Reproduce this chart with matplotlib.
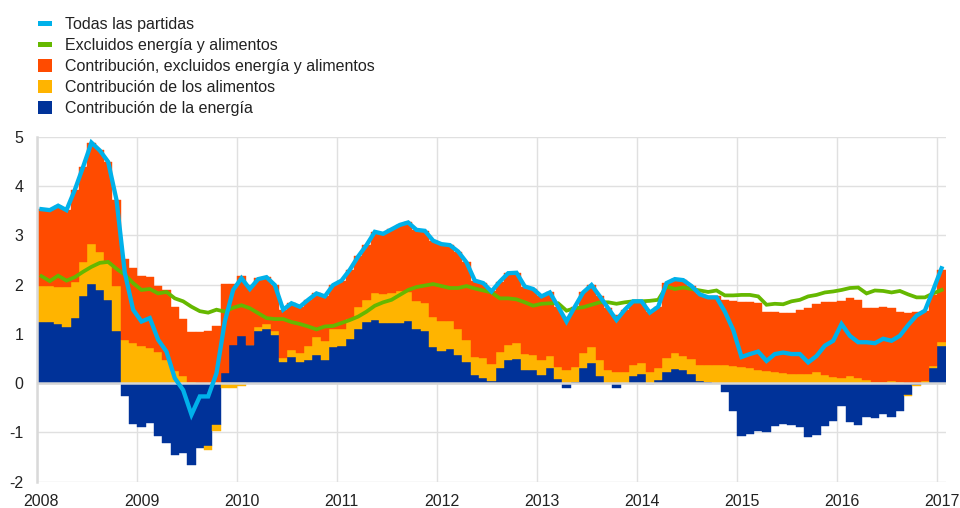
import numpy as np
import matplotlib
matplotlib.use("Agg")
import matplotlib.pyplot as plt
from matplotlib.patches import Rectangle

# ---------------- data (monthly, Jan 2008 - Jan 2017) ----------------
years = [str(y) for y in range(2008, 2018)]

energy = [1.24, 1.24, 1.20, 1.13, 1.32, 1.76, 2.01, 1.88, 1.69, 1.06,
          -0.27, -0.83, -0.90, -0.81, -1.08, -1.22, -1.45, -1.42, -1.66, -1.32,
          -1.28, -0.84, 0.20, 0.78, 0.96, 0.78, 1.05, 1.09, 0.98, 0.42,
          0.54, 0.42, 0.46, 0.57, 0.47, 0.74, 0.76, 0.89, 1.10, 1.24,
          1.28, 1.23, 1.22, 1.22, 1.26, 1.10, 1.05, 0.73, 0.66, 0.70,
          0.57, 0.42, 0.17, 0.10, 0.05, 0.30, 0.46, 0.49, 0.27, 0.27,
          0.16, 0.30, 0.08, -0.10, 0.03, 0.30, 0.41, 0.15, 0.00, -0.10,
          0.00, 0.15, 0.19, -0.02, 0.07, 0.22, 0.29, 0.27, 0.18, 0.05,
          0.02, 0.00, -0.18, -0.56, -1.08, -1.03, -0.97, -1.00, -0.86, -0.82,
          -0.84, -0.90, -1.09, -1.05, -0.88, -0.76, -0.47, -0.78, -0.84, -0.68,
          -0.71, -0.62, -0.68, -0.57, -0.24, -0.03, 0.00, 0.30, 0.76]

food = [0.74, 0.74, 0.76, 0.83, 0.74, 0.69, 0.81, 0.79, 0.74, 0.92,
        0.88, 0.82, 0.76, 0.71, 0.64, 0.47, 0.24, 0.14, 0.03, 0.00,
        -0.07, -0.14, -0.10, -0.10, -0.06, 0.00, 0.08, 0.10, 0.07, 0.09,
        0.14, 0.19, 0.30, 0.37, 0.39, 0.35, 0.34, 0.42, 0.44, 0.45,
        0.55, 0.57, 0.61, 0.64, 0.58, 0.57, 0.57, 0.61, 0.60, 0.56,
        0.53, 0.46, 0.37, 0.41, 0.34, 0.33, 0.32, 0.32, 0.32, 0.30,
        0.31, 0.26, 0.24, 0.27, 0.29, 0.31, 0.32, 0.31, 0.27, 0.22,
        0.22, 0.22, 0.22, 0.22, 0.23, 0.29, 0.32, 0.29, 0.31, 0.32,
        0.35, 0.36, 0.36, 0.34, 0.32, 0.30, 0.27, 0.24, 0.22, 0.20,
        0.18, 0.18, 0.19, 0.22, 0.17, 0.12, 0.10, 0.14, 0.10, 0.07,
        0.02, 0.02, 0.05, 0.02, -0.03, -0.02, 0.05, 0.05, 0.07]

core_contrib = [1.55, 1.53, 1.64, 1.55, 1.86, 1.94, 2.06, 2.05, 2.06, 1.74,
                1.63, 1.52, 1.42, 1.45, 1.34, 1.42, 1.31, 1.16, 1.00, 1.03,
                1.05, 1.15, 1.81, 1.23, 1.22, 1.22, 1.01, 0.96, 0.94, 0.98,
                0.94, 0.94, 0.93, 0.88, 0.90, 0.90, 0.98, 0.99, 1.03, 1.11,
                1.24, 1.23, 1.29, 1.35, 1.42, 1.44, 1.47, 1.55, 1.56, 1.54,
                1.57, 1.57, 1.54, 1.52, 1.47, 1.43, 1.45, 1.43, 1.37, 1.34,
                1.29, 1.28, 1.23, 1.08, 1.23, 1.23, 1.26, 1.30, 1.25, 1.16,
                1.27, 1.29, 1.25, 1.23, 1.25, 1.52, 1.50, 1.53, 1.48, 1.43,
                1.39, 1.40, 1.33, 1.32, 1.32, 1.34, 1.35, 1.21, 1.23, 1.23,
                1.25, 1.31, 1.33, 1.39, 1.47, 1.52, 1.57, 1.58, 1.58, 1.45,
                1.50, 1.52, 1.47, 1.43, 1.43, 1.45, 1.42, 1.44, 1.47]

headline = [3.53, 3.51, 3.60, 3.51, 3.92, 4.39, 4.88, 4.72, 4.49, 3.72,
            2.24, 1.49, 1.25, 1.32, 0.88, 0.64, 0.10, -0.14, -0.64, -0.27,
            -0.27, 0.20, 1.25, 1.89, 2.13, 1.91, 2.11, 2.15, 1.99, 1.49,
            1.62, 1.55, 1.69, 1.82, 1.76, 1.99, 2.08, 2.30, 2.57, 2.80,
            3.07, 3.03, 3.12, 3.21, 3.26, 3.11, 3.09, 2.89, 2.82, 2.80,
            2.67, 2.45, 2.08, 2.03, 1.86, 2.06, 2.23, 2.24, 1.96, 1.91,
            1.76, 1.84, 1.55, 1.25, 1.55, 1.84, 1.99, 1.76, 1.52, 1.28,
            1.49, 1.66, 1.66, 1.43, 1.55, 2.03, 2.11, 2.09, 1.97, 1.80,
            1.74, 1.74, 1.45, 1.08, 0.53, 0.59, 0.64, 0.45, 0.59, 0.62,
            0.59, 0.59, 0.42, 0.55, 0.76, 0.86, 1.20, 0.96, 0.83, 0.83,
            0.81, 0.90, 0.86, 0.96, 1.18, 1.37, 1.47, 1.89, 2.33]

core_line = [2.17, 2.07, 2.18, 2.08, 2.15, 2.26, 2.36, 2.44, 2.46, 2.32,
             2.20, 2.03, 1.89, 1.91, 1.82, 1.85, 1.72, 1.66, 1.55, 1.46,
             1.43, 1.49, 1.45, 1.53, 1.58, 1.52, 1.42, 1.32, 1.30, 1.30,
             1.24, 1.20, 1.15, 1.09, 1.15, 1.16, 1.22, 1.28, 1.35, 1.45,
             1.57, 1.64, 1.69, 1.79, 1.89, 1.95, 1.98, 2.01, 1.97, 1.93,
             1.93, 1.97, 1.92, 1.88, 1.84, 1.72, 1.72, 1.70, 1.64, 1.57,
             1.61, 1.62, 1.62, 1.47, 1.52, 1.54, 1.59, 1.64, 1.64, 1.61,
             1.64, 1.66, 1.66, 1.67, 1.69, 1.96, 1.91, 1.94, 1.91, 1.88,
             1.85, 1.88, 1.78, 1.78, 1.79, 1.79, 1.76, 1.59, 1.61, 1.60,
             1.66, 1.69, 1.76, 1.79, 1.84, 1.86, 1.89, 1.93, 1.94, 1.82,
             1.88, 1.87, 1.84, 1.87, 1.80, 1.74, 1.74, 1.82, 1.89]

labels = ["Todas las partidas",
          "Excluidos energía y alimentos",
          "Contribución, excluidos energía y alimentos",
          "Contribución de los alimentos",
          "Contribución de la energía"]

C_BLUE_L = "#00B1EA"
C_GREEN = "#65B800"
C_ORANGE = "#FF4B00"
C_YELLOW = "#FFB400"
C_BLUE_D = "#003299"

plt.rcParams['font.family'] = ['Liberation Sans', 'DejaVu Sans']
plt.rcParams['axes.unicode_minus'] = False
FS = 11.5
TXT = "#222222"

fig = plt.figure(figsize=(9.6, 5.08), dpi=100)
W, H = 960.0, 508.0
ax_l, ax_r, ax_t, ax_b = 37.3, 945.7, 136.7, 481.7
ax = fig.add_axes([ax_l / W, 1 - ax_b / H, (ax_r - ax_l) / W, (ax_b - ax_t) / H])

n = len(headline)
x = np.arange(n)

pos_bottom = np.zeros(n)
neg_bottom = np.zeros(n)
for vals, col in [(energy, C_BLUE_D), (food, C_YELLOW), (core_contrib, C_ORANGE)]:
    v = np.array(vals)
    bottoms = np.where(v >= 0, pos_bottom, neg_bottom)
    ax.bar(x, v, width=1.0, bottom=bottoms, align='edge', color=col,
           edgecolor=col, linewidth=0.3, zorder=2)
    pos_bottom = pos_bottom + np.where(v >= 0, v, 0)
    neg_bottom = neg_bottom + np.where(v < 0, v, 0)

xc = x + 0.5
ax.plot(xc, core_line, color=C_GREEN, lw=2.7, zorder=4, solid_joinstyle='miter')
ax.plot(xc, headline, color=C_BLUE_L, lw=3.1, zorder=5, solid_joinstyle='miter')

ax.set_xlim(0, n)
ax.set_ylim(-2, 5)

# grid
for yv in range(-2, 6):
    ax.axhline(yv, color="#e0e0e0", lw=1.0, zorder=0)
ax.axhline(0, color="#d5d5d5", lw=1.8, zorder=3)
for k in range(0, n, 12):
    ax.axvline(k, color="#e0e0e0", lw=1.0, zorder=0)

for s in ['top', 'right', 'bottom']:
    ax.spines[s].set_visible(False)
ax.spines['left'].set_color("#d9d9d9")
ax.spines['left'].set_linewidth(1.8)

ax.set_yticks(range(-2, 6))
ax.set_yticklabels([str(v) for v in range(-2, 6)])
ax.set_xticks([12 * i + 0.5 for i in range(len(years))])
ax.set_xticklabels(years)
ax.tick_params(axis='y', length=0, pad=10, labelsize=FS, labelcolor=TXT)
ax.tick_params(axis='x', length=0, pad=9, labelsize=FS, labelcolor=TXT)

# legend (manual)
rows = [23.3, 44.3, 65.7, 86.7, 107.7]
hcols = [C_BLUE_L, C_GREEN, C_ORANGE, C_YELLOW, C_BLUE_D]
hh = [5, 5, 13.3, 13.3, 13.3]
for yc, col, h, lab in zip(rows, hcols, hh, labels):
    fig.patches.append(Rectangle((37.7 / W, 1 - (yc + h / 2) / H), 14 / W, h / H,
                                 transform=fig.transFigure, color=col, lw=0))
    fig.text(65 / W, 1 - (yc + 5.7) / H, lab, fontsize=FS, color=TXT,
             va='baseline', ha='left')

fig.savefig("out.png", dpi=100)
